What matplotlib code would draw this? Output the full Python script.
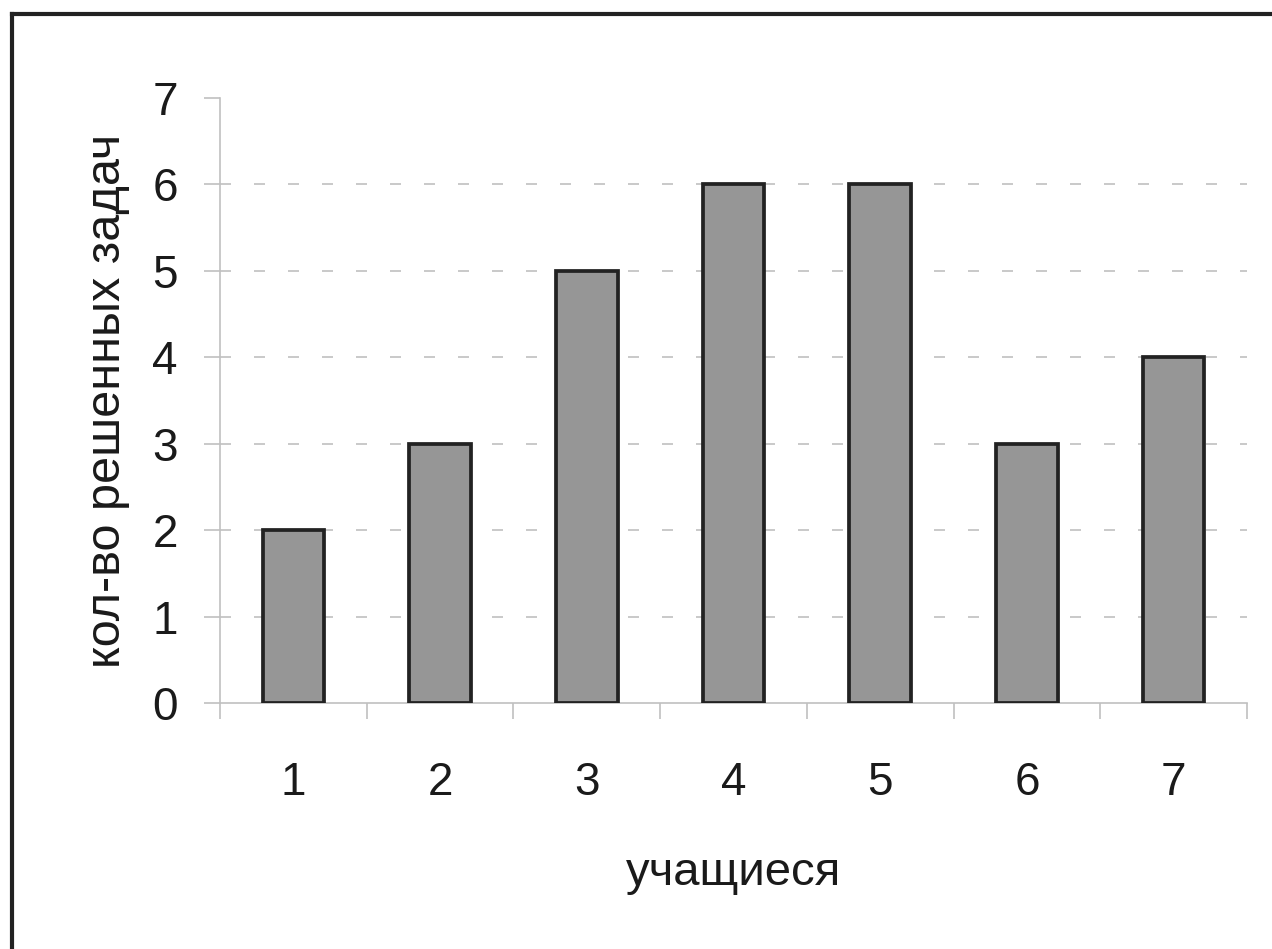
import matplotlib
matplotlib.use('Agg')
from matplotlib import pyplot as plt
from matplotlib.lines import Line2D
import numpy as np

# students and number of solved problems
students = [1, 2, 3, 4, 5, 6, 7]
solved = [2, 3, 5, 6, 6, 3, 4]
yticks = [0, 1, 2, 3, 4, 5, 6, 7]

plt.rcParams['font.family'] = ['Liberation Sans', 'DejaVu Sans']

W, H = 1272, 949
fig = plt.figure(figsize=(W/100., H/100.), dpi=100)
ax = fig.add_axes([220./W, 1-703./H, (1247.-220.)/W, (703.-98.)/H])

x = np.array(students)
ax.bar(x, solved, width=0.42, color='#969696', edgecolor='#222222',
       linewidth=2.7, zorder=3)

ax.set_xlim(0.5, len(students) + 0.5)
ax.set_ylim(0, 7)

# dashed grid at every integer except the top
for v in yticks[1:-1]:
    ax.axhline(v, color='#c0c0c0', lw=1.2, dashes=(6.6, 13.8), zorder=1)

for s in ['top', 'right']:
    ax.spines[s].set_visible(False)
for s in ['left', 'bottom']:
    ax.spines[s].set_color('#c0c0c0')
    ax.spines[s].set_linewidth(1.2)

ax.set_yticks(yticks)
ax.set_yticklabels([str(v) for v in yticks])
ax.tick_params(axis='y', length=11.5, width=1.2, color='#c0c0c0',
               pad=19, labelsize=33, labelcolor='#1a1a1a')

# labels centred on categories, tick marks on the category boundaries
ax.set_xticks(x)
ax.set_xticklabels([str(s) for s in students])
ax.tick_params(axis='x', which='major', length=0, pad=42,
               labelsize=33, labelcolor='#1a1a1a')
ax.set_xticks(np.arange(0.5, len(students) + 1, 1.0), minor=True)
ax.tick_params(axis='x', which='minor', length=11.5, width=1.2,
               color='#c0c0c0')

ax.set_ylabel('кол-во решенных задач', fontsize=35, color='#1a1a1a',
              labelpad=16)
ax.set_xlabel('учащиеся', fontsize=34, color='#1a1a1a', labelpad=33)

# frame around the chart area (runs off the right and bottom)
fig.add_artist(Line2D([11.5/W, 1.01], [1-14./H, 1-14./H], color='#222222',
                      lw=3, transform=fig.transFigure))
fig.add_artist(Line2D([11.5/W, 11.5/W], [-0.01, 1-14./H], color='#222222',
                      lw=3, transform=fig.transFigure))

plt.savefig('out.png', dpi=100)
plt.close()
